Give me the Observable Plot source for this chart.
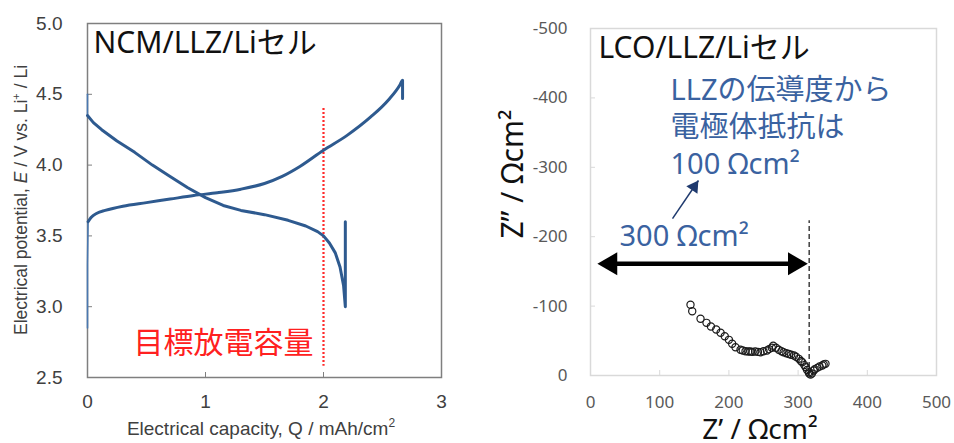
<!DOCTYPE html>
<html>
<head>
<meta charset="utf-8">
<script src="https://cdn.jsdelivr.net/npm/d3@7"></script>
<script src="https://cdn.jsdelivr.net/npm/@observablehq/plot@0.6"></script>
<style>
  body { margin: 0; background: #fff; }
  #wrap { display: flex; width: 954px; height: 443px; overflow: hidden; }
  #wrap svg { flex: none; }
</style>
</head>
<body>
<div id="wrap"></div>
<script>
// ---------- Left panel: charge / discharge curves ----------
const xTicksLeft = [0, 1, 2, 3];
const yTicksLeft = [2.5, 3.0, 3.5, 4.0, 4.5, 5.0];

const chargeStartQ = [0, 0, 0.005];
const chargeStartE = [2.85, 3.3, 3.6];
const chargeQ = [0.005, 0.03, 0.08, 0.15, 0.3, 0.5, 0.7, 0.9, 1.1, 1.3, 1.5, 1.65, 1.8, 2.0, 2.2, 2.4, 2.55, 2.65, 2.67, 2.67];
const chargeE = [3.6, 3.63, 3.66, 3.68, 3.71, 3.735, 3.76, 3.785, 3.805, 3.83, 3.87, 3.92, 3.99, 4.105, 4.21, 4.34, 4.46, 4.57, 4.6, 4.47];

const dischargeStartQ = [0, 0];
const dischargeStartE = [4.5, 4.35];
const dischargeQ = [0, 0.05, 0.12, 0.25, 0.4, 0.55, 0.7, 0.85, 1.0, 1.15, 1.3, 1.5, 1.7, 1.85, 1.95, 2.0, 2.05, 2.1, 2.14, 2.17, 2.185, 2.185];
const dischargeE = [4.35, 4.3, 4.25, 4.17, 4.09, 4.0, 3.92, 3.84, 3.77, 3.715, 3.68, 3.65, 3.61, 3.57, 3.53, 3.5, 3.45, 3.38, 3.28, 3.15, 3.0, 3.6];

const targetCapacity = [2];
const targetRange = [4.4, 2.58];

// ---------- Right panel: impedance ----------
const xTicksRight = [0, 100, 200, 300, 400, 500];
const yTicksRight = [0, -100, -200, -300, -400, -500];

const zRe = [144.5, 147, 159, 167.6, 174, 181.6, 188, 194, 200, 204.7, 209.5, 216.8, 220, 224, 228, 231, 234, 238, 242, 245.7, 250, 255, 258, 262, 264, 268, 272, 276, 279, 283, 286.6, 290, 294, 297, 301, 304, 306, 309, 311, 313, 315.5, 316, 318, 320, 322.7, 324, 327.6, 331, 335, 337, 339.6];
const zIm = [-102, -92.6, -81.7, -75.9, -70.6, -66.3, -61.5, -56.6, -51.4, -45.7, -40.8, -37, -36, -35, -34.5, -34.6, -34, -34.6, -34, -33.6, -35, -36, -38, -40, -43, -40, -37, -35, -33.6, -32, -31, -30, -28.8, -27, -24, -21, -19, -15, -12, -8, -4.8, -3, -1.4, -3, -7.2, -9, -11, -13, -14.4, -16, -16.8];

const spanArrowX = [10, 314];
const spanArrowY = [-161];
const resistanceLine = [316];
const resistanceRange = [0, -223];
const pointerFrom = [118.5, -226];
const pointerTo = [156, -281];

const sans = "'Liberation Sans', Arial, sans-serif";
const uiSans = "'Noto Sans', 'Noto Sans CJK JP', sans-serif";

const charge = chargeQ.map((q, i) => ({q, e: chargeE[i]}));
const chargeStart = chargeStartQ.map((q, i) => ({q, e: chargeStartE[i]}));
const discharge = dischargeQ.map((q, i) => ({q, e: dischargeE[i]}));
const dischargeStart = dischargeStartQ.map((q, i) => ({q, e: dischargeStartE[i]}));
const blue = "#2e5a8f";

const left = Plot.plot({
  width: 480, height: 443,
  marginLeft: 87, marginRight: 39, marginTop: 23, marginBottom: 66,
  x: {domain: [0, 3]},
  y: {domain: [2.5, 5]},
  style: {fontFamily: sans, background: "transparent", color: "#404040"},
  marks: [
    Plot.frame({stroke: "#7f7f7f", strokeWidth: 1.5}),
    Plot.axisX({ticks: xTicksLeft, tickSize: -5, tickPadding: 22, fontSize: 19, label: null, stroke: "#7f7f7f", tickFormat: d => String(d)}),
    Plot.axisY({ticks: yTicksLeft, tickSize: -5, tickPadding: 30, fontSize: 19, label: null, stroke: "#7f7f7f", tickFormat: d3.format(".1f")}),
    Plot.ruleX(targetCapacity, {y1: targetRange[0], y2: targetRange[1], stroke: "#ff2a2a", strokeWidth: 2.2, strokeDasharray: "2,2"}),
    Plot.line(chargeStart, {x: "q", y: "e", stroke: "#4a78b0", strokeWidth: 1.6}),
    Plot.line(dischargeStart, {x: "q", y: "e", stroke: "#4a78b0", strokeWidth: 1.6}),
    Plot.line(charge, {x: "q", y: "e", stroke: blue, strokeWidth: 3, curve: "monotone-x"}),
    Plot.line(discharge, {x: "q", y: "e", stroke: blue, strokeWidth: 3, curve: "linear"}),
    Plot.text(["NCM/LLZ/Liセル"], {frameAnchor: "top-left", dx: 6, dy: 29, lineAnchor: "bottom", textAnchor: "start", fontSize: 30, fill: "#111", fontFamily: uiSans}),
    Plot.text(["目標放電容量"], {frameAnchor: "top-left", dx: 46, dy: 329, lineAnchor: "bottom", textAnchor: "start", fontSize: 30, fill: "#ff2020", fontFamily: "'Noto Sans CJK JP', sans-serif"})
  ]
});

{
  const s = d3.select(left);
  const t = s.append("text")
    .attr("transform", "translate(27,200) rotate(-90)")
    .attr("text-anchor", "middle")
    .attr("font-size", 17.5).attr("fill", "#404040").attr("font-family", sans);
  t.append("tspan").text("Electrical potential, ");
  t.append("tspan").attr("font-style", "italic").text("E");
  t.append("tspan").text(" / V vs. Li");
  t.append("tspan").attr("font-size", 11).attr("dy", -7).text("+");
  t.append("tspan").attr("dy", 7).text(" / Li");

  const b = s.append("text")
    .attr("x", 261).attr("y", 435)
    .attr("text-anchor", "middle")
    .attr("font-size", 19).attr("fill", "#404040").attr("font-family", sans);
  b.append("tspan").text("Electrical capacity, Q / mAh/cm");
  b.append("tspan").attr("font-size", 12).attr("dy", -8).text("2");
}

const imp = zRe.map((re, i) => ({re, im: zIm[i]}));
const noteBlue = "#3a62a0";

const right = Plot.plot({
  width: 474, height: 443,
  marginLeft: 110, marginRight: 18, marginTop: 28, marginBottom: 68,
  x: {domain: [0, 500]},
  y: {domain: [0, -500]},
  style: {fontFamily: uiSans, background: "transparent", color: "#595959"},
  marks: [
    Plot.frame({stroke: "#d9d9d9", strokeWidth: 1.5}),
    Plot.axisX({ticks: xTicksRight, tickSize: -5, tickPadding: 25, fontSize: 17, label: null, stroke: "#d9d9d9", tickFormat: d => String(d)}),
    Plot.axisY({ticks: yTicksRight, tickSize: -5, tickPadding: 28, fontSize: 17, label: null, stroke: "#d9d9d9", tickFormat: d => d === 0 ? "0" : "-" + (-d)}),
    Plot.ruleX(resistanceLine, {y1: resistanceRange[0], y2: resistanceRange[1], stroke: "#222", strokeWidth: 1.3, strokeDasharray: "5,3"}),
    Plot.dot(imp, {x: "re", y: "im", r: 3.6, stroke: "#1a1a1a", strokeWidth: 1.2, fill: "white", fillOpacity: 0}),
    Plot.ruleY(spanArrowY, {x1: spanArrowX[0], x2: spanArrowX[1], stroke: "#000", strokeWidth: 4.5, insetLeft: 14, insetRight: 14}),
    Plot.dot([spanArrowX[0]], {x: d => d, y: spanArrowY, symbol: "triangle", r: 8.5, fill: "#000", rotate: -90, dx: 13.2}),
    Plot.dot([spanArrowX[1]], {x: d => d, y: spanArrowY, symbol: "triangle", r: 8.5, fill: "#000", rotate: 90, dx: -13.2}),
    Plot.link([{x1: pointerFrom[0], y1: pointerFrom[1], x2: pointerTo[0], y2: pointerTo[1]}], {x1: "x1", y1: "y1", x2: "x2", y2: "y2", stroke: "#1f3a6e", strokeWidth: 1.5}),
    Plot.dot([pointerTo], {x: d => d[0], y: d => d[1], symbol: "triangle", r: 5, fill: "#1f3a6e", rotate: 34, dx: -4.4, dy: 6.4}),
    Plot.text(["LCO/LLZ/Liセル"], {frameAnchor: "top-left", dx: 8, dy: 29, lineAnchor: "bottom", textAnchor: "start", fontSize: 30, fill: "#111", fontFamily: uiSans}),
    Plot.text(["LLZの伝導度から\n電極体抵抗は\n100 Ωcm²"], {frameAnchor: "top-left", dx: 80, dy: 145, lineAnchor: "bottom", textAnchor: "start", fontSize: 29, lineHeight: 1.26, fill: noteBlue, fontFamily: uiSans}),
    Plot.text(["300 Ωcm²"], {frameAnchor: "top-left", dx: 29, dy: 217, lineAnchor: "bottom", textAnchor: "start", fontSize: 29, fill: noteBlue, fontFamily: uiSans})
  ]
});

{
  const s = d3.select(right);
  s.append("text")
    .attr("x", 280).attr("y", 439)
    .attr("text-anchor", "middle")
    .attr("font-size", 28).attr("fill", "#111").attr("font-family", uiSans)
    .text("Z’ / Ωcm²");
  s.append("text")
    .attr("transform", "translate(43,174) rotate(-90)")
    .attr("text-anchor", "middle")
    .attr("font-size", 30).attr("fill", "#111").attr("font-family", uiSans)
    .text("Z” / Ωcm²");
}

document.getElementById("wrap").append(left, right);
</script>
</body>
</html>
